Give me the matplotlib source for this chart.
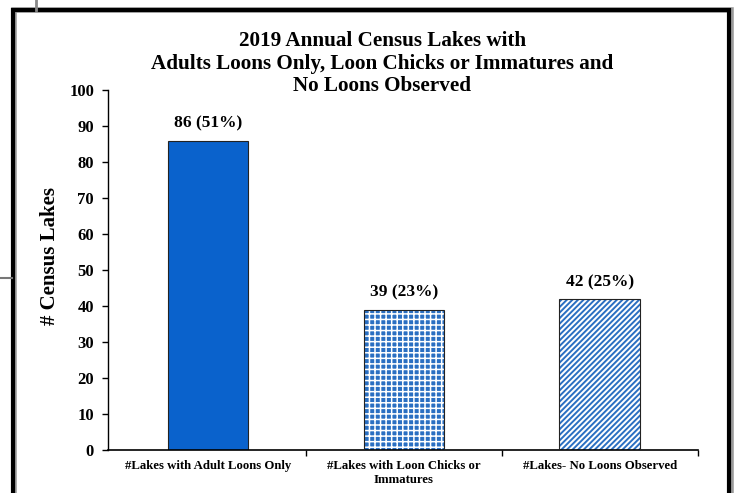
import matplotlib
matplotlib.use('Agg')
import matplotlib.pyplot as plt
from matplotlib.patches import Rectangle
from matplotlib.lines import Line2D

plt.rcParams['font.family'] = ['Liberation Serif', 'DejaVu Serif']
plt.rcParams['font.weight'] = 'bold'

# 数据
categories = ['#Lakes with Adult Loons Only',
              '#Lakes with Loon Chicks or\nImmatures',
              '#Lakes- No Loons Observed']
counts = [86, 39, 42]
percents = [51, 23, 25]
title = '2019 Annual Census Lakes with\nAdults Loons Only, Loon Chicks or Immatures and\nNo Loons Observed'

blue = '#0a62cc'
hblue = '#2a6fc2'

fig = plt.figure(figsize=(7.39, 4.93), dpi=100)
ax = fig.add_axes([0.146, 0.087, 0.798, 0.730])

x = list(range(len(categories)))
w = 0.41

# bar 1 solid
ax.bar(x[0], counts[0], width=w, color=blue, edgecolor='#222222', linewidth=0.8, zorder=2)

# bar 2 checker: blue fill with white grid hatch
plt.rcParams['hatch.linewidth'] = 1.1
ax.bar(x[1], counts[1], width=w, color=hblue, edgecolor='white', hatch='+++', linewidth=0, zorder=2)
ax.bar(x[1], counts[1], width=w, color='none', edgecolor='#222222', linewidth=0.8, zorder=3)

# bar 3 diagonal stripes
plt.rcParams['hatch.linewidth'] = 1.4
ax.bar(x[2], counts[2], width=w, color='white', edgecolor=hblue, hatch='//////', linewidth=0, zorder=2)
ax.bar(x[2], counts[2], width=w, color='none', edgecolor='#222222', linewidth=0.8, zorder=3)

for xi, c, p in zip(x, counts, percents):
    ax.text(xi, c + 2.5, '%d (%d%%)' % (c, p), ha='center', va='bottom',
            fontsize=12.5, fontweight='bold')

ax.set_xlim(-0.51, 2.5)
ax.set_ylim(0, 100)
ax.set_yticks(range(0, 101, 10))
ax.tick_params(axis='y', direction='out', length=4, width=1, labelsize=12, pad=6)
ax.set_xticks(x)
ax.set_xticklabels(categories, fontsize=9.2, fontweight='bold', linespacing=1.2)
ax.set_xticks([0.5, 1.5, 2.5], minor=True)
ax.tick_params(axis='x', which='major', length=0, pad=7)
ax.tick_params(axis='x', which='minor', direction='out', length=4, width=1)
for lab in ax.get_yticklabels():
    lab.set_fontweight('bold')

ax.spines['top'].set_visible(False)
ax.spines['right'].set_visible(False)
ax.spines['left'].set_linewidth(1)
ax.spines['bottom'].set_linewidth(1.2)
ax.set_ylabel('# Census Lakes', fontsize=15, fontweight='bold')
ax.yaxis.set_label_coords(-0.081, 0.54)

fig.text(0.517, 0.937, title, ha='center', va='top', fontsize=15.2,
         fontweight='bold', linespacing=1.18)

# 外框和阴影
fig.patches.append(Rectangle((0.019, -0.05), 0.970, 1.03, transform=fig.transFigure,
                             fill=False, edgecolor='#9a9a9a', linewidth=4, zorder=0))
fig.patches.append(Rectangle((0.017, -0.05), 0.970, 1.03, transform=fig.transFigure,
                             fill=False, edgecolor='black', linewidth=3, zorder=1))
fig.lines.append(Line2D([0.049, 0.049], [0.98, 1.0], transform=fig.transFigure,
                        color='#888888', linewidth=2))
fig.lines.append(Line2D([0.0, 0.016], [0.437, 0.437], transform=fig.transFigure,
                        color='#777777', linewidth=1.5))

fig.savefig('out.png', dpi=100)
